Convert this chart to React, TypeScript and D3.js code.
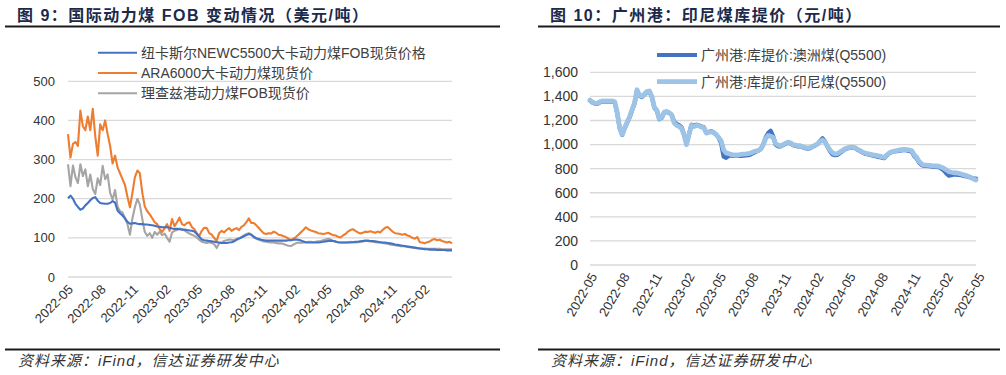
import * as d3 from 'd3'

const SANS = "'Liberation Sans', Arial, 'Noto Sans CJK SC', sans-serif"
const TITLE_COLOR = '#1b2a4a'

// ---- left chart: 国际动力煤 FOB (weekly, from 2022-04-29) ----
const fobStart = '2022-04-29'
const fobTicks = ['2022-05', '2022-08', '2022-11', '2023-02', '2023-05', '2023-08', '2023-11', '2024-02', '2024-05', '2024-08', '2024-11', '2025-02']
const fobYTicks = [0, 100, 200, 300, 400, 500]

const newc = [
  201, 208, 200, 187, 179, 172, 175, 183, 189, 196,
  202, 204, 195, 189, 188, 187, 187, 189, 194, 190,
  170, 163, 157, 150, 141, 136, 137, 138, 136, 135,
  135, 134, 134, 133, 132, 131, 129, 128, 127, 127,
  127, 126, 124, 123, 123, 122, 121, 121, 120, 119,
  118, 116, 110, 103, 96, 94, 93, 92, 91, 90,
  89, 88, 87, 87, 87, 88, 89, 91, 95, 98,
  101, 104, 107, 110, 108, 103, 99, 97, 95, 94,
  93, 93, 93, 93, 93, 93, 93, 93, 93, 94,
  94, 95, 96, 95, 93, 91, 89, 88, 88, 88,
  88, 88, 89, 90, 91, 92, 93, 92, 91, 89,
  88, 88, 88, 88, 88, 89, 90, 90, 91, 92,
  93, 93, 92, 92, 91, 90, 89, 88, 88, 87,
  86, 85, 83, 82, 81, 80, 79, 78, 77, 76,
  75, 74, 73, 72, 71, 71, 70, 70, 70, 69,
  69, 69, 69, 68, 68, 68,
]

const ara = [
  365, 305, 340, 345, 335, 425, 385, 375, 410, 375,
  430, 360, 310, 390, 375, 400, 365, 335, 290, 310,
  280, 265, 250, 235, 205, 178, 215, 255, 272, 265,
  215, 180, 168, 160, 150, 140, 135, 122, 115, 125,
  135, 118, 148, 130, 140, 152, 135, 132, 138, 140,
  128, 122, 112, 105, 118, 126, 125, 112, 108, 100,
  92, 112, 118, 114, 120, 125, 118, 122, 125, 120,
  128, 132, 140, 150, 138, 138, 132, 125, 118, 112,
  110, 112, 111, 116, 113, 108, 107, 104, 102, 98,
  94, 98, 102, 108, 114, 120, 127, 122, 119, 117,
  115, 112, 111, 110, 111, 113, 110, 107, 106, 103,
  101, 106, 110, 116, 120, 122, 118, 114, 111, 113,
  116, 115, 117, 115, 113, 116, 114, 120, 126, 128,
  122, 116, 112, 111, 110, 108, 110, 106, 104, 100,
  98, 102, 89, 88, 86, 89, 91, 95, 97, 94,
  95, 92, 90, 88, 90, 86,
]

const richards = [
  288, 232, 285, 255, 240, 288, 258, 275, 232, 262,
  225, 212, 252, 235, 284, 250, 262, 215, 198, 222,
  180, 168, 165, 150, 135, 108, 150, 178, 200, 185,
  148, 115, 105, 112, 100, 115, 108, 116, 107, 111,
  100, 90, 114, 118, 120, 124, 122, 119, 115, 111,
  108, 105, 101, 95, 90, 88, 87, 89, 87, 84,
  74, 86, 88, 92, 94, 96, 95, 94, 97, 99,
  102, 106, 110, 112, 108, 101, 98, 95, 93, 91,
  90, 89, 88, 88, 87, 86, 86, 84, 82, 80,
  79, 83, 86, 88, 87, 89, 88, 90, 90, 89,
  90, 91, 92, 94, 96, 98, 95, 92, 90, 89,
  88, 88, 88, 89, 90, 89, 88, 89, 90, 91,
  92, 92, 91, 90, 89, 88, 88, 87, 86, 85,
  83, 82, 81, 80, 79, 79, 78, 77, 76, 75,
  74, 73, 73, 73, 73, 72, 72, 72, 72, 72,
  72, 71, 71, 71, 71, 71,
]

// ---- right chart: 广州港库提价 (weekly, from 2022-04-29) ----
const gzStart = '2022-04-29'
const gzTicks = ['2022-05', '2022-08', '2022-11', '2023-02', '2023-05', '2023-08', '2023-11', '2024-02', '2024-05', '2024-08', '2024-11', '2025-02', '2025-05']
const gzYTicks = [0, 200, 400, 600, 800, 1000, 1200, 1400, 1600]

const aus = [
  1365, 1348, 1340, 1338, 1350, 1358, 1356, 1358, 1356, 1358,
  1350, 1260, 1135, 1080, 1135, 1180, 1225, 1285, 1340, 1450,
  1405, 1395, 1415, 1435, 1440, 1395, 1305, 1282, 1210, 1222,
  1265, 1270, 1262, 1248, 1190, 1172, 1162, 1145, 1085, 1005,
  1085, 1165, 1158, 1165, 1160, 1150, 1145, 1100, 1105, 1112,
  1100, 1085, 1055, 1010, 900, 890, 905, 910, 905, 910,
  905, 905, 908, 910, 912, 918, 930, 940, 948, 962,
  1000, 1060, 1095, 1115, 1070, 1000, 985, 985, 995, 1005,
  1015, 1010, 995, 990, 985, 985, 978, 970, 965, 970,
  982, 992, 1005, 1030, 1052, 1025, 980, 945, 918, 912,
  915, 930, 945, 960, 968, 972, 975, 972, 958, 948,
  935, 925, 920, 915, 910, 906, 900, 896, 890, 888,
  910, 928, 938, 942, 946, 950, 952, 955, 952, 948,
  940, 905, 885, 850, 832, 822, 822, 820, 818, 815,
  815, 812, 800, 785, 760, 742, 745, 752, 750, 748,
  745, 740, 736, 730, 725, 720, 718,
]

const indo = [
  1370, 1352, 1345, 1342, 1355, 1362, 1360, 1362, 1360, 1362,
  1355, 1265, 1140, 1085, 1140, 1185, 1230, 1290, 1345, 1455,
  1410, 1400, 1420, 1440, 1445, 1400, 1310, 1287, 1215, 1226,
  1270, 1275, 1265, 1245, 1180, 1160, 1150, 1135, 1080, 1000,
  1080, 1160, 1150, 1160, 1155, 1145, 1140, 1095, 1100, 1108,
  1098, 1082, 1060, 1030, 955, 930, 925, 918, 913, 915,
  913, 918, 920, 922, 925, 930, 940, 945, 950, 965,
  995, 1050, 1075, 1070, 1060, 1010, 995, 990, 1000, 1010,
  1020, 1015, 1000, 995, 990, 990, 982, 975, 970, 975,
  985, 995, 1005, 1025, 1038, 1020, 985, 955, 932, 922,
  925, 938, 950, 965, 972, 976, 978, 975, 962, 952,
  940, 930, 925, 920, 916, 913, 908, 904, 898, 894,
  915, 932, 940, 946, 950, 955, 958, 960, 958, 955,
  950, 915, 895, 860, 840, 830, 830, 828, 825, 822,
  822, 820, 812, 802, 790, 775, 770, 766, 764, 761,
  755, 748, 742, 735, 726, 714, 706,
]

const parseDay = d3.timeParse('%Y-%m-%d')
const parseMonth = d3.timeParse('%Y-%m')
const weekly = (start: string, n: number) => d3.range(n).map((i) => d3.timeDay.offset(parseDay(start)!, i * 7))

function Header({ x1, x2, title }: { x1: number; x2: number; title: string }) {
  return (
    <g>
      <text x={x1 + 12} y={21} fontFamily={SANS} fontSize={16} fontWeight="bold" letterSpacing={1.5} fill={TITLE_COLOR}>
        {title}
      </text>
      <line x1={x1} x2={x2} y1={26.5} y2={26.5} stroke="#1a1a1a" strokeWidth={2} />
      <line x1={x1} x2={x2} y1={349.5} y2={349.5} stroke="#1a1a1a" strokeWidth={2} />
      <text x={x1 + 13} y={366} fontFamily={SANS} fontSize={15} fontStyle="italic" letterSpacing={1} fill="#333">
        资料来源：iFind，信达证券研发中心
      </text>
    </g>
  )
}

export default function App() {
  // left
  const fobDates = weekly(fobStart, newc.length)
  const xL = d3.scaleTime().domain([fobDates[0], fobDates[fobDates.length - 1]]).range([68, 452])
  const yL = d3.scaleLinear().domain([0, 500]).range([277, 81.3])
  const lineL = (vals: number[]) =>
    d3.line<number>().x((_, i) => xL(fobDates[i])).y((d) => yL(d))(vals) ?? ''

  const fobSeries = [
    { name: '纽卡斯尔NEWC5500大卡动力煤FOB现货价格', values: newc, color: '#4472c4' },
    { name: 'ARA6000大卡动力煤现货价', values: ara, color: '#ed7d31' },
    { name: '理查兹港动力煤FOB现货价', values: richards, color: '#a5a5a5' },
  ]

  // right
  const gzDates = weekly(gzStart, indo.length)
  const xR = d3.scaleTime().domain([gzDates[0], gzDates[gzDates.length - 1]]).range([590, 976])
  const yR = d3.scaleLinear().domain([0, 1600]).range([265, 72.3])
  const lineR = (vals: number[]) =>
    d3.line<number>().x((_, i) => xR(gzDates[i])).y((d) => yR(d))(vals) ?? ''
  const fmt = d3.format(',')

  const gzSeries = [
    { name: '广州港:库提价:澳洲煤(Q5500)', values: aus, color: '#4472c4', width: 4.2 },
    { name: '广州港:库提价:印尼煤(Q5500)', values: indo, color: '#9dc3e6', width: 4.8 },
  ]

  return (
    <div style={{ position: 'absolute', left: 0, top: 0 }}>
      <svg width={1006} height={375} style={{ display: 'block', background: '#fff' }}>
        <Header x1={5} x2={500} title="图 9：国际动力煤 FOB 变动情况（美元/吨）" />
        <Header x1={538} x2={1000} title="图 10：广州港：印尼煤库提价（元/吨）" />

        {/* left chart */}
        {fobYTicks.map((t) => (
          <g key={`yl-${t}`}>
            <line x1={68} x2={452} y1={yL(t)} y2={yL(t)} stroke="#d9d9d9" strokeWidth={1.3} />
            <text x={55} y={yL(t)} dy="0.35em" textAnchor="end" fontFamily={SANS} fontSize={13} fill="#333">
              {t}
            </text>
          </g>
        ))}
        {fobTicks.map((m) => {
          const x = xL(parseMonth(m)!)
          return (
            <text
              key={`xl-${m}`}
              transform={`translate(${x + 2}, 287) rotate(-45)`}
              textAnchor="end"
              dy="0.35em"
              fontFamily={SANS}
              fontSize={13}
              fill="#333"
            >
              {m}
            </text>
          )
        })}
        {[...fobSeries].reverse().map((s) => (
          <path key={s.name} d={lineL(s.values)} fill="none" stroke={s.color} strokeWidth={2.1} strokeLinejoin="round" />
        ))}
        {fobSeries.map((s, i) => (
          <g key={`lg-${s.name}`} transform={`translate(98, ${52.7 + i * 20.3})`}>
            <line x1={0} x2={39} stroke={s.color} strokeWidth={2.1} />
            <text x={43} dy="0.35em" fontFamily={SANS} fontSize={14} fill="#404040">
              {s.name}
            </text>
          </g>
        ))}

        {/* right chart */}
        {gzYTicks.map((t) => (
          <g key={`yr-${t}`}>
            <line x1={590} x2={976} y1={yR(t)} y2={yR(t)} stroke="#d9d9d9" strokeWidth={1.3} />
            <text x={578} y={yR(t)} dy="0.35em" textAnchor="end" fontFamily={SANS} fontSize={14} fill="#333">
              {fmt(t)}
            </text>
          </g>
        ))}
        {gzTicks.map((m) => {
          const x = xR(parseMonth(m)!)
          return (
            <text
              key={`xr-${m}`}
              transform={`translate(${x + 3}, 274) rotate(-60)`}
              textAnchor="end"
              dy="0.35em"
              fontFamily={SANS}
              fontSize={13}
              fill="#333"
            >
              {m}
            </text>
          )
        })}
        {gzSeries.map((s) => (
          <path key={s.name} d={lineR(s.values)} fill="none" stroke={s.color} strokeWidth={s.width} strokeLinejoin="round" strokeLinecap="round" />
        ))}
        {gzSeries.map((s, i) => (
          <g key={`lg-${s.name}`} transform={`translate(657, ${55 + i * 26.7})`}>
            <line x1={0} x2={40} stroke={s.color} strokeWidth={s.width} />
            <text x={44} dy="0.35em" fontFamily={SANS} fontSize={14} fill="#404040">
              {s.name}
            </text>
          </g>
        ))}
      </svg>
    </div>
  )
}
